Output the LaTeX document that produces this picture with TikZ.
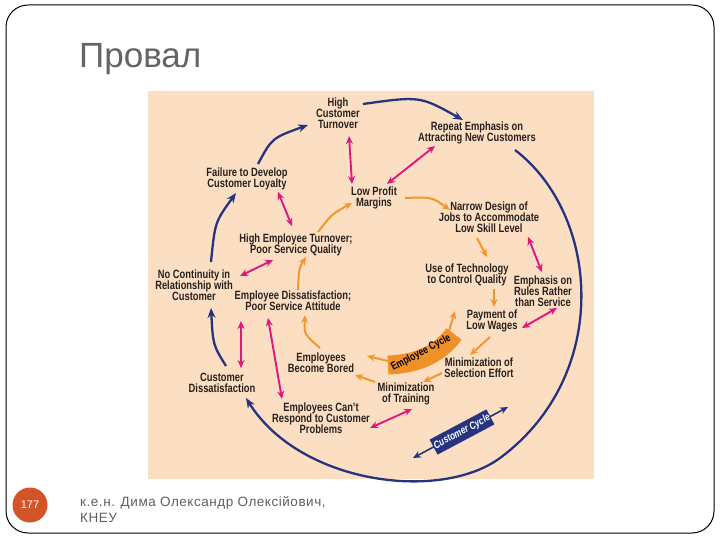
\documentclass[tikz,border=0pt]{standalone}
\usepackage{fontspec}
\setmainfont{Liberation Sans}
\newfontfamily\dgf[FakeStretch=0.78]{Liberation Sans}
\newfontfamily\footf[LetterSpace=4]{Liberation Sans}
\newcommand\tightlines{\setlength{\lineskiplimit}{-20pt}}
\usetikzlibrary{arrows.meta,calc}
\definecolor{peach}{RGB}{252,223,195}
\definecolor{navy}{RGB}{38,52,128}
\definecolor{pinkm}{RGB}{222,24,128}
\definecolor{orng}{RGB}{242,150,45}
\definecolor{band}{RGB}{240,145,40}
\definecolor{txt}{RGB}{40,33,30}
\definecolor{titlegray}{RGB}{100,100,100}
\definecolor{footgray}{RGB}{95,95,95}
\definecolor{circ}{RGB}{212,84,42}
\begin{document}
\begin{tikzpicture}[x=1pt,y=-1pt,
  lbl/.style={align=center, inner sep=0pt, font=\dgf\bfseries\fontsize{12}{11}\selectfont\tightlines, text=txt},
  cust/.style={draw=navy, line width=2.3pt, -{Stealth[length=10pt,width=8pt]}},
  mag/.style={draw=pinkm, line width=1.9pt, {Stealth[length=8pt,width=7pt]}-{Stealth[length=8pt,width=7pt]}},
  org/.style={draw=orng, line width=2pt, -{Stealth[length=8pt,width=7pt]}}
]
\useasboundingbox (0,0) rectangle (720,540);
\fill[white] (0,0) rectangle (720,540);
\draw[line width=1pt, rounded corners=22pt] (6,5) rectangle (714,533);
\node[anchor=base west, inner sep=0pt, font=\fontsize{35}{35}\selectfont, text=titlegray] (title) at (79,68) {Провал};
\fill[peach] (148,91) rectangle (594,479);

% text nodes
\node[lbl] (hct) at (338,113) {High\\Customer\\Turnover};
\node[lbl] (rep) at (477,133) {Repeat Emphasis on\\Attracting New Customers};
\node[lbl] (fail) at (247,179) {Failure to Develop\\Customer Loyalty};
\node[lbl] (lpm) at (374,198) {Low Profit\\Margins};
\node[lbl] (nar) at (489,217) {Narrow Design of\\Jobs to Accommodate\\Low Skill Level};
\node[lbl] (het) at (296,245) {High Employee Turnover;\\Poor Service Quality};
\node[lbl] (noc) at (194,285) {No Continuity in\\Relationship with\\Customer};
\node[lbl] (tech) at (467,275) {Use of Technology\\to Control Quality};
\node[lbl] (rules) at (543,291) {Emphasis on\\Rules Rather\\than Service};
\node[lbl] (eds) at (293,301) {Employee Dissatisfaction;\\Poor Service Attitude};
\node[lbl] (pay) at (492,321) {Payment of\\Low Wages};
\node[lbl] (bored) at (321,363) {Employees\\Become Bored};
\node[lbl] (sel) at (479,368) {Minimization of\\Selection Effort};
\node[lbl] (cdis) at (222,383) {Customer\\Dissatisfaction};
\node[lbl] (train) at (406,394) {Minimization\\of Training};
\node[lbl] (cant) at (321,418) {Employees Can’t\\Respond to Customer\\Problems};

% customer cycle (blue)
\draw[cust] ($(fail)+(11,-15)$) .. controls (272,138) .. ($(hct)+(-30,12)$);
\draw[cust] ($(hct)+(25,-9)$) .. controls (420,96) .. ($(rep)+(-14,-13)$);
\draw[cust] ($(rep)+(38,17)$) .. controls (600,215) and (612,375) .. (500,458)
   .. controls (440,502) and (300,484) .. ($(cdis)+(24,15)$);
\draw[cust] ($(cdis)+(4,-17)$) .. controls (213,345) .. ($(noc)+(17,23)$);
\draw[cust] ($(noc)+(17,-23)$) .. controls (215,222) .. ($(fail)+(-11,14)$);

\coordinate (cc1) at (413,458);
\coordinate (cc2) at (508,407);
\draw[navy, line width=1.6pt, {Stealth[length=8pt,width=7pt]}-{Stealth[length=8pt,width=7pt]}] (cc1) -- (cc2);
\node[fill=navy, rotate=28, minimum width=62pt, minimum height=17pt, inner sep=1pt,
      font=\dgf\bfseries\itshape\fontsize{10.5}{10.5}\selectfont, text=white] (ccyc) at (462,432) {Customer Cycle};

% magenta double arrows
\draw[mag] ($(hct)+(11,23)$) -- ($(lpm)+(-22,-14)$);
\draw[mag] ($(rep)+(-42,13)$) -- ($(lpm)+(13,-14)$);
\draw[mag] ($(fail)+(31,13)$) -- ($(het)+(-4,-19)$);
\draw[mag] ($(het)+(-23,15)$) -- ($(noc)+(46,-9)$);
\draw[mag] ($(eds)+(-52,20)$) -- ($(cdis)+(19,-15)$);
\draw[mag] ($(eds)+(-25,17)$) -- ($(cant)+(-39,-19)$);
\draw[mag] ($(cant)+(49,10)$) -- ($(train)+(6,15)$);
\draw[mag] ($(nar)+(39,20)$) -- ($(rules)+(-1,-19)$);
\draw[mag] ($(pay)+(30,7)$) -- ($(rules)+(14,17)$);

% employee cycle (orange)
\draw[org] ($(het)+(22,-13)$) .. controls (332,214) .. ($(lpm)+(-22,5)$);
\draw[org] ($(lpm)+(31,0)$) .. controls (432,197) .. ($(nar)+(-39,-7)$);
\draw[org] ($(nar)+(-12,21)$) -- ($(tech)+(20,-18)$);
\draw[org] ($(tech)+(27,14)$) -- ($(pay)+(2,-14)$);
\draw[org] ($(pay)+(-2,16)$) -- ($(sel)+(-9,-13)$);
\draw[org] ($(sel)+(-37,5)$) -- ($(train)+(17,-12)$);
\draw[org] ($(train)+(-31,-12)$) -- ($(bored)+(34,12)$);
\draw[org] ($(bored)+(-1,-15)$) .. controls (304,334) .. ($(eds)+(12,14)$);
\draw[org] ($(eds)+(5,-11)$) .. controls (299,268) .. ($(het)+(10,12)$);

\draw[line width=19pt, draw=band] (388,365) .. controls (420,364) and (441,352) .. (454,334);
\coordinate (bandL) at (388,361);
\coordinate (bandR) at (449,331);
\draw[org] (bandR) -- ($(pay)+(-37,-10)$);
\draw[org] (bandL) -- ($(bored)+(46,-7)$);
\node[rotate=28, inner sep=0pt, text=black, font=\dgf\bfseries\fontsize{11}{11}\selectfont] (ecyc) at (421,353) {Employee Cycle};

% footer
\node[circle, fill=circ, minimum size=35pt, inner sep=0pt, text=white, font=\fontsize{11}{11}\selectfont] (pg) at (30,505) {177};
\node[anchor=base west, inner sep=0pt, text=footgray, font=\footf\fontsize{13.5}{13.5}\selectfont] (auth) at (80,506) {к.е.н. Дима Олександр Олексійович,};
\node[anchor=base west, inner sep=0pt, text=footgray, font=\footf\fontsize{13.5}{13.5}\selectfont] (org) at (80,522) {КНЕУ};
\end{tikzpicture}
\end{document}
